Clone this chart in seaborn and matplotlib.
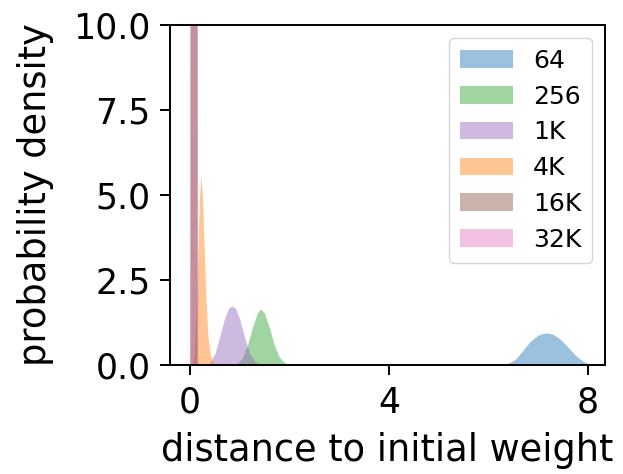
import matplotlib
matplotlib.use("Agg")
import matplotlib.pyplot as plt
from matplotlib.patches import Patch
import numpy as np
import pandas as pd
import seaborn as sns

# Density curves of the distance to the initial weight, one per model width
sizes = ["64", "256", "1K", "4K", "16K", "32K"]

dist_64 = [6.25, 6.40, 6.55, 6.70, 6.85, 7.00, 7.10, 7.20, 7.30, 7.45, 7.60, 7.75, 7.90, 8.00]
dens_64 = [0.01, 0.05, 0.18, 0.45, 0.71, 0.88, 0.93, 0.94, 0.90, 0.75, 0.52, 0.28, 0.11, 0.05]

dist_256 = [0.85, 0.95, 1.05, 1.15, 1.25, 1.35, 1.42, 1.50, 1.60, 1.70, 1.80, 1.90, 2.00]
dens_256 = [0.01, 0.05, 0.20, 0.55, 1.08, 1.52, 1.65, 1.52, 1.08, 0.56, 0.22, 0.07, 0.02]

dist_1k = [0.30, 0.40, 0.50, 0.60, 0.70, 0.78, 0.85, 0.92, 1.00, 1.10, 1.20, 1.30, 1.40]
dens_1k = [0.01, 0.06, 0.33, 0.85, 1.40, 1.68, 1.74, 1.66, 1.35, 0.80, 0.35, 0.11, 0.03]

dist_4k = [0.04, 0.08, 0.12, 0.16, 0.19, 0.22, 0.25, 0.28, 0.32, 0.36, 0.41, 0.47, 0.55]
dens_4k = [0.02, 0.30, 1.40, 3.40, 4.90, 5.55, 5.00, 3.70, 2.00, 0.85, 0.28, 0.06, 0.01]

dist_16k = [0.010, 0.015, 0.050, 0.080, 0.110, 0.150, 0.155]
dens_16k = [0.0, 12.0, 20.0, 24.0, 20.0, 12.0, 0.0]

dist_32k = [0.000, 0.005, 0.040, 0.080, 0.120, 0.160, 0.165]
dens_32k = [0.0, 11.0, 16.0, 18.0, 16.0, 11.0, 0.0]

x_ticks = [0, 4, 8]
y_ticks = [0.0, 2.5, 5.0, 7.5, 10.0]

frames = []
for name, xs, ys in [("64", dist_64, dens_64), ("256", dist_256, dens_256),
                     ("1K", dist_1k, dens_1k), ("4K", dist_4k, dens_4k),
                     ("16K", dist_16k, dens_16k), ("32K", dist_32k, dens_32k)]:
    frames.append(pd.DataFrame({"distance": xs, "density": ys, "size": name}))
df = pd.concat(frames, ignore_index=True)

sns.set_theme(style="ticks", rc={
    "axes.edgecolor": "black",
    "axes.linewidth": 1.4,
    "xtick.color": "black",
    "ytick.color": "black",
    "text.color": "black",
    "axes.labelcolor": "black",
})
plt.rcParams["font.family"] = ["DejaVu Sans"]

tab = sns.color_palette("tab10")
palette = dict(zip(sizes, [tab[0], tab[2], tab[4], tab[1], tab[5], tab[6]]))
fill_alpha = 0.45

fig = plt.figure(figsize=(6.23, 4.74), dpi=100)
ax = fig.add_axes([0.273, 0.230, 0.698, 0.717])

# Outline of each curve (invisible) drawn through seaborn, fills on the same axes
sns.lineplot(data=df, x="distance", y="density", hue="size", palette=palette,
             hue_order=sizes, estimator=None, sort=False, linewidth=0,
             legend=False, ax=ax)
# the widest models are layered so the brown one sits on top of the pink one
draw_order = ["64", "256", "1K", "4K", "32K", "16K"]
for name in draw_order:
    sub = df[df["size"] == name]
    ax.fill_between(sub["distance"], 0, sub["density"],
                    color=palette[name], alpha=fill_alpha, linewidth=0)

ax.set_xlim(-0.40, 8.34)
ax.set_ylim(0, 10)
ax.set_xticks(x_ticks)
ax.set_yticks(y_ticks)
ax.set_yticklabels([f"{v:.1f}" for v in y_ticks])
ax.tick_params(axis="both", labelsize=25, length=7, width=1.4)
ax.tick_params(axis="x", pad=8)
ax.tick_params(axis="y", pad=7)
ax.set_xlabel("distance to initial weight", fontsize=26.5, labelpad=9)
ax.set_ylabel("probability density", fontsize=26.5, labelpad=14)

handles = [Patch(facecolor=palette[n], alpha=fill_alpha, edgecolor="none", label=n)
           for n in sizes]
ax.legend(handles=handles, loc="upper right", fontsize=18, frameon=True,
          fancybox=True, framealpha=0.8, edgecolor="0.8",
          borderaxespad=0.5, handlelength=2.1, handletextpad=0.8,
          labelspacing=0.47, borderpad=0.45)

fig.savefig("out.png", dpi=100)
